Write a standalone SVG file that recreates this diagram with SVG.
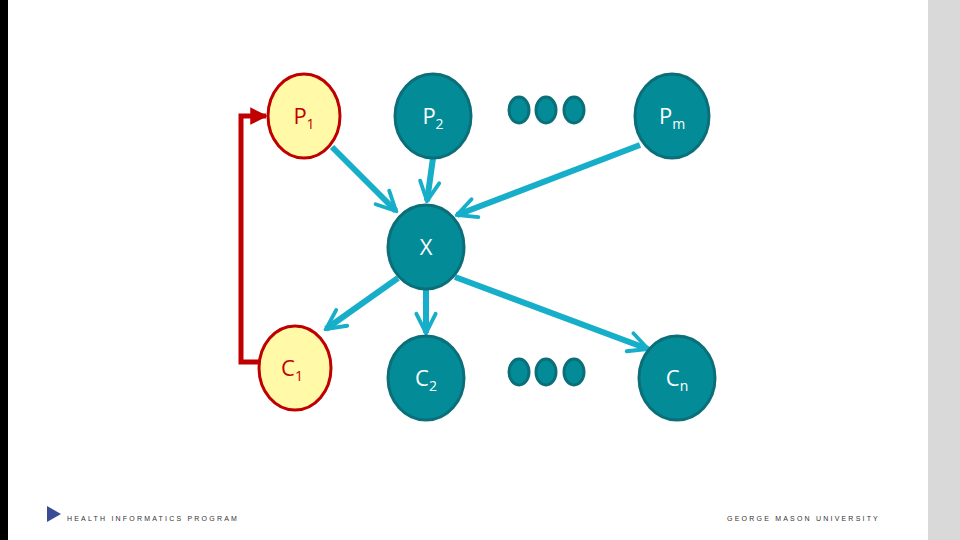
<svg xmlns="http://www.w3.org/2000/svg" width="960" height="540" viewBox="0 0 960 540">
<defs>
<marker id="ah" viewBox="0 0 10 10" refX="9" refY="5" markerWidth="4" markerHeight="4" orient="auto" markerUnits="strokeWidth">
<path d="M1,1 L9,5 L1,9" fill="none" stroke="#16aec8" stroke-width="1.6" stroke-linecap="round"/>
</marker>
<marker id="rh" viewBox="0 0 10 10" refX="9" refY="5" markerWidth="3.5" markerHeight="3.5" orient="auto">
<path d="M0,0 L10,5 L0,10 Z" fill="#c00000"/>
</marker>
</defs>
<style>
.teal{fill:#038c98;stroke:#0b6f7a;stroke-width:3}
.yel{fill:#fff9a8;stroke:#c00000;stroke-width:3}
.lbl{font-family:"Open Sans","Liberation Sans",sans-serif;font-size:22px;text-anchor:middle}
.w{fill:#ffffff}.r{fill:#c00000}
.sub{font-size:14px}
.c{fill:none;stroke:#16aec8;stroke-width:6}
.foot{font-family:"Liberation Sans",sans-serif;font-size:7px;letter-spacing:2.2px;fill:#333}
</style>
<rect width="960" height="540" fill="#fff"/>
<rect x="0" y="0" width="8" height="540" fill="#000"/>
<rect x="928" y="0" width="32" height="540" fill="#d9d9d9"/>
<g id="connectors">
<path d="M262,362 H241 V116 H266" fill="none" stroke="#c00000" stroke-width="5" marker-end="url(#rh)"/>
<line class="c" x1="332" y1="147" x2="396" y2="211" marker-end="url(#ah)"/>
<line class="c" x1="433" y1="158" x2="427" y2="201" marker-end="url(#ah)"/>
<line class="c" x1="640" y1="145" x2="457" y2="215" marker-end="url(#ah)"/>
<line class="c" x1="398" y1="278" x2="326" y2="329" marker-end="url(#ah)"/>
<line class="c" x1="426" y1="290" x2="426" y2="333" marker-end="url(#ah)"/>
<line class="c" x1="455" y1="277" x2="648" y2="349" marker-end="url(#ah)"/>
</g>
<g id="P1"><ellipse class="yel" cx="304" cy="116" rx="36" ry="42"/><text class="lbl r" x="304" y="124">P<tspan class="sub" dy="5">1</tspan></text></g>
<g id="P2"><ellipse class="teal" cx="433" cy="116" rx="38" ry="42"/><text class="lbl w" x="433" y="124">P<tspan class="sub" dy="5">2</tspan></text></g>
<g id="Pm"><ellipse class="teal" cx="672" cy="116" rx="37" ry="42"/><text class="lbl w" x="672" y="124">P<tspan class="sub" dy="5">m</tspan></text></g>
<g id="dots-top"><ellipse class="teal" cx="519" cy="110" rx="10" ry="13"/><ellipse class="teal" cx="546" cy="110" rx="10" ry="13"/><ellipse class="teal" cx="574" cy="110" rx="10" ry="13"/></g>
<g id="X"><ellipse class="teal" cx="426" cy="247" rx="38" ry="42"/><text class="lbl w" x="426" y="255">X</text></g>
<g id="C1"><ellipse class="yel" cx="295" cy="368" rx="36" ry="42"/><text class="lbl r" x="292" y="376">C<tspan class="sub" dy="5">1</tspan></text></g>
<g id="C2"><ellipse class="teal" cx="426" cy="378" rx="38" ry="42"/><text class="lbl w" x="426" y="386">C<tspan class="sub" dy="5">2</tspan></text></g>
<g id="Cn"><ellipse class="teal" cx="677" cy="378" rx="38" ry="42"/><text class="lbl w" x="677" y="386">C<tspan class="sub" dy="5">n</tspan></text></g>
<g id="dots-bottom"><ellipse class="teal" cx="519" cy="372" rx="10" ry="13"/><ellipse class="teal" cx="546" cy="372" rx="10" ry="13"/><ellipse class="teal" cx="574" cy="372" rx="10" ry="13"/></g>
<g id="footer">
<path d="M47,506 L61,514 L47,522 Z" fill="#3b4c96"/>
<text class="foot" x="67" y="521">HEALTH INFORMATICS PROGRAM</text>
<text class="foot" x="880" y="521" text-anchor="end">GEORGE MASON UNIVERSITY</text>
</g>
</svg>
